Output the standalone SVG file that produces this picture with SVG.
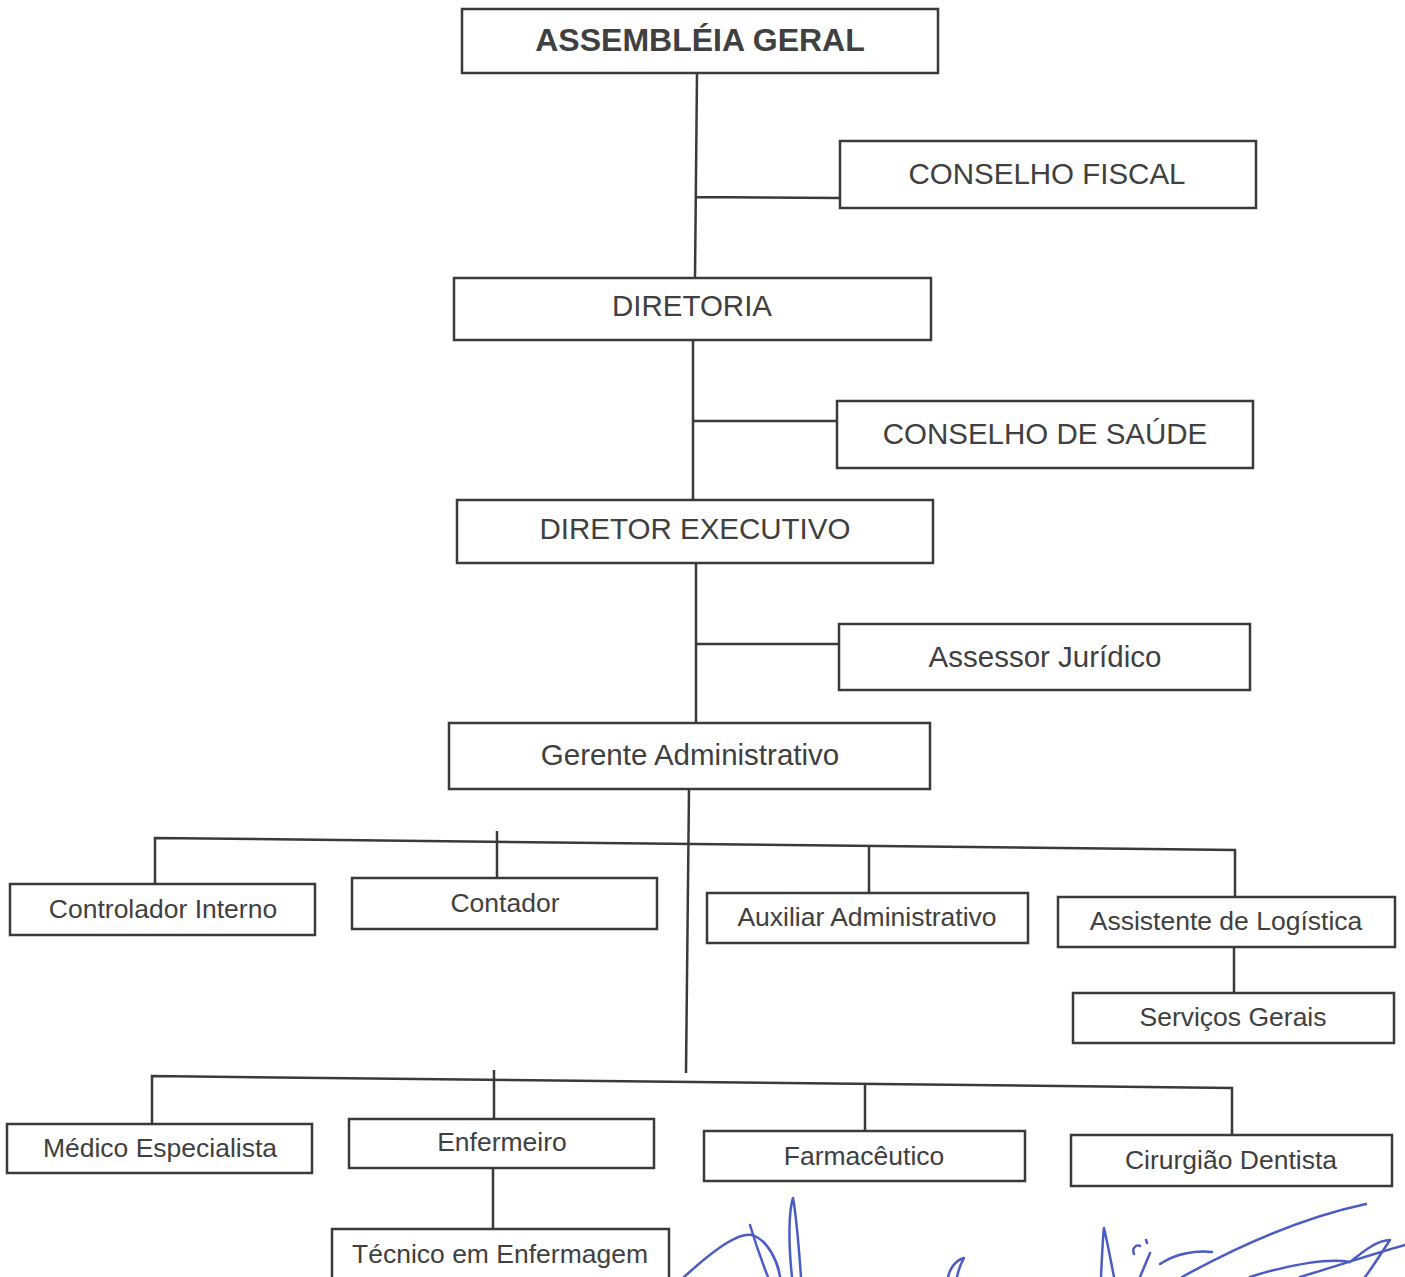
<svg xmlns="http://www.w3.org/2000/svg" width="1405" height="1277" viewBox="0 0 1405 1277">
<style>
.box{fill:#fff;stroke:#3a3a3a;stroke-width:2.5}
.t{font-family:"Liberation Sans",Arial,sans-serif;fill:#404040;text-anchor:middle;dominant-baseline:central}
.big{font-size:29.5px}
.sm{font-size:26.5px}
.b{font-weight:bold;font-size:32px}
.c{stroke:#3a3a3a;stroke-width:2.5;fill:none}
.sig{stroke:#4b5cc4;stroke-width:2.5;fill:none;stroke-linecap:round;stroke-linejoin:round}
</style>
<rect width="1405" height="1277" fill="#fff"/>
<g id="connectors">
<path class="c" d="M697 73 L695 277 M695 197 L840 198"/>
<path class="c" d="M693 340 L693 499 M693 421 L837 421"/>
<path class="c" d="M696 563 L696 722 M696 644 L839 644"/>
<path class="c" d="M689 789 L686 1073"/>
<path class="c" d="M155 883 L155 838 L1235 850 L1235 896"/>
<path class="c" d="M497 831 L497 877 M869 846 L869 892"/>
<path class="c" d="M1234 947 L1234 992"/>
<path class="c" d="M152 1123 L152 1076 L1232 1088 L1232 1134"/>
<path class="c" d="M494 1070 L494 1118 M865 1083 L865 1130"/>
<path class="c" d="M493 1168 L493 1228"/>
</g>
<g id="n_assembleia"><rect class="box" x="462" y="9" width="476" height="64"/><text class="t b" x="700" y="40">ASSEMBLÉIA GERAL</text></g>
<g id="n_fiscal"><rect class="box" x="840" y="141" width="416" height="67"/><text class="t big" x="1047" y="173">CONSELHO FISCAL</text></g>
<g id="n_diretoria"><rect class="box" x="454" y="278" width="477" height="62"/><text class="t big" x="692" y="305">DIRETORIA</text></g>
<g id="n_saude"><rect class="box" x="837" y="401" width="416" height="67"/><text class="t big" x="1045" y="433">CONSELHO DE SAÚDE</text></g>
<g id="n_diretor"><rect class="box" x="457" y="500" width="476" height="63"/><text class="t big" x="695" y="528">DIRETOR EXECUTIVO</text></g>
<g id="n_assessor"><rect class="box" x="839" y="624" width="411" height="66"/><text class="t big" x="1045" y="656">Assessor Jurídico</text></g>
<g id="n_gerente"><rect class="box" x="449" y="723" width="481" height="66"/><text class="t big" x="690" y="754">Gerente Administrativo</text></g>
<g id="n_controlador"><rect class="box" x="10" y="884" width="305" height="51"/><text class="t sm" x="163" y="909">Controlador Interno</text></g>
<g id="n_contador"><rect class="box" x="352" y="878" width="305" height="51"/><text class="t sm" x="505" y="903">Contador</text></g>
<g id="n_auxiliar"><rect class="box" x="707" y="893" width="321" height="50"/><text class="t sm" x="867" y="917">Auxiliar Administrativo</text></g>
<g id="n_assistente"><rect class="box" x="1058" y="897" width="337" height="50"/><text class="t sm" x="1226" y="921">Assistente de Logística</text></g>
<g id="n_servicos"><rect class="box" x="1073" y="993" width="321" height="50"/><text class="t sm" x="1233" y="1017">Serviços Gerais</text></g>
<g id="n_medico"><rect class="box" x="7" y="1124" width="305" height="49"/><text class="t sm" x="160" y="1148">Médico Especialista</text></g>
<g id="n_enfermeiro"><rect class="box" x="349" y="1119" width="305" height="49"/><text class="t sm" x="502" y="1142">Enfermeiro</text></g>
<g id="n_farmaceutico"><rect class="box" x="704" y="1131" width="321" height="50"/><text class="t sm" x="864" y="1156">Farmacêutico</text></g>
<g id="n_dentista"><rect class="box" x="1071" y="1135" width="321" height="51"/><text class="t sm" x="1231" y="1160">Cirurgião Dentista</text></g>
<g id="n_tecnico"><rect class="box" x="332" y="1229" width="337" height="60"/><text class="t sm" x="500" y="1254">Técnico em Enfermagem</text></g>
<g id="signatures">
<path class="sig" d="M684 1277 C705 1258 735 1232 752 1235 C768 1240 778 1262 780 1277"/>
<path class="sig" d="M750 1225 C756 1245 762 1262 768 1277"/>
<path class="sig" d="M792 1277 C788 1240 789 1210 793 1198 C797 1220 799 1250 801 1277"/>
<path class="sig" d="M948 1277 C950 1268 956 1260 964 1258 C960 1265 958 1272 957 1277"/>
<path class="sig" d="M1101 1277 C1102 1255 1103 1235 1104 1228 C1108 1245 1111 1262 1114 1277"/>
<path class="sig" d="M1134 1254 C1131 1247 1138 1244 1140 1246 M1146 1240 L1147 1243 M1140 1277 C1145 1265 1148 1258 1150 1253 M1160 1264 C1175 1254 1195 1250 1212 1252"/>
<path class="sig" d="M1182 1277 C1240 1245 1300 1218 1366 1204" stroke-width="4"/>
<path class="sig" d="M1250 1277 C1290 1264 1330 1258 1350 1262 C1365 1250 1378 1240 1390 1240 C1380 1255 1372 1268 1365 1277 M1300 1277 C1330 1268 1370 1255 1405 1245"/>
</g>
</svg>
